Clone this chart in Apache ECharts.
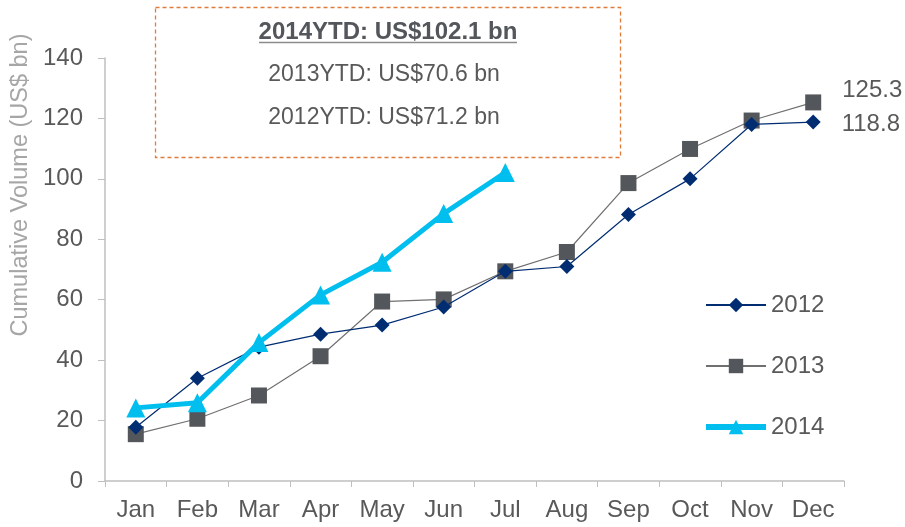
<!DOCTYPE html>
<html><head><meta charset="utf-8">
<script src="https://cdn.jsdelivr.net/npm/echarts@6/dist/echarts.min.js"></script>
<style>html,body{margin:0;padding:0;background:#fff}#c{width:905px;height:527px}</style>
</head><body><div id="c"></div>
<script>
const months = ['Jan','Feb','Mar','Apr','May','Jun','Jul','Aug','Sep','Oct','Nov','Dec'];
const s2012 = [17.8, 34.0, 44.3, 48.6, 51.6, 57.6, 69.4, 71.0, 88.2, 100.0, 118.0, 118.8];
const s2013 = [15.5, 20.6, 28.3, 41.3, 59.4, 60.1, 69.4, 75.8, 98.6, 109.9, 119.3, 125.3];
const s2014 = [24.2, 25.9, 45.8, 61.6, 72.4, 88.5, 102.1];
const boxLines = ['2014YTD: US$102.1 bn', '2013YTD: US$70.6 bn', '2012YTD: US$71.2 bn'];
const yName = 'Cumulative Volume (US$ bn)';

const font = 'Liberation Sans, Arial, sans-serif';
const txt = '#595959';
const chart = echarts.init(document.getElementById('c'));
function lastLabel(arr, offsetY) {
  return arr.map((v, i) => i === arr.length - 1 ? {
    value: v,
    label: {show: true, position: 'right', distance: 21, offset: [0, offsetY], formatter: String(v), color: txt, fontSize: 24, fontFamily: font}
  } : v);
}
chart.setOption({
  animation: false,
  textStyle: {fontFamily: font},
  grid: {left: 105, right: 61, top: 58, bottom: 46},
  xAxis: {
    type: 'category', data: months, boundaryGap: true,
    axisLine: {lineStyle: {color: '#bfbfbf', width: 1.5}},
    axisTick: {show: true, length: 6, lineStyle: {color: '#bfbfbf'}},
    axisLabel: {color: txt, fontSize: 24, margin: 17, fontFamily: font}
  },
  yAxis: {
    type: 'value', min: 0, max: 140, interval: 20,
    splitLine: {show: false},
    axisLine: {show: true, lineStyle: {color: '#bfbfbf', width: 1.5}},
    axisTick: {show: true, length: 7, lineStyle: {color: '#bfbfbf'}},
    axisLabel: {color: txt, fontSize: 24, margin: 22, fontFamily: font}
  },
  legend: {
    orient: 'vertical', left: 698, top: 288, itemGap: 37, itemWidth: 60, itemHeight: 18,
    textStyle: {color: txt, fontSize: 24, fontFamily: font},
    data: [
      {name: '2012'},
      {name: '2013'},
      {name: '2014', lineStyle: {width: 6}}
    ]
  },
  series: [
    {name: '2012', type: 'line', data: lastLabel(s2012, 2), symbol: 'diamond', symbolSize: 15,
     itemStyle: {color: '#002D72'}, lineStyle: {color: '#002D72', width: 1.2}, z: 3},
    {name: '2013', type: 'line', data: lastLabel(s2013, -12), symbol: 'rect', symbolSize: 16,
     itemStyle: {color: '#53565A'}, lineStyle: {color: '#707070', width: 1.2}, z: 2},
    {name: '2014', type: 'line', data: s2014, symbol: 'triangle', symbolSize: 19,
     itemStyle: {color: '#00BFEF'}, lineStyle: {color: '#00BFEF', width: 5}, z: 4}
  ],
  graphic: [
    {type: 'rect', shape: {x: 155.5, y: 7.5, width: 465, height: 150},
     style: {fill: 'none', stroke: '#E07B39', lineWidth: 1.3, lineDash: [4, 3]}, z: 10},
    {type: 'text', x: 388, y: 32, z: 11,
     style: {text: boxLines[0], font: 'bold 24px ' + font, fill: '#53565A', align: 'center', verticalAlign: 'middle'}},
    {type: 'line', shape: {x1: 259, y1: 42.5, x2: 517, y2: 42.5}, style: {stroke: '#8c8c8c', lineWidth: 1.5}, z: 11},
    {type: 'text', x: 384, y: 75, z: 11,
     style: {text: boxLines[1], font: '23px ' + font, fill: txt, align: 'center', verticalAlign: 'middle'}},
    {type: 'text', x: 384, y: 118, z: 11,
     style: {text: boxLines[2], font: '23px ' + font, fill: txt, align: 'center', verticalAlign: 'middle'}},
    {type: 'text', x: 21, y: 185, rotation: Math.PI / 2, z: 11,
     style: {text: yName, font: '23.5px ' + font, fill: '#a6a6a6', align: 'center', verticalAlign: 'middle'}}
  ]
});
</script></body></html>
